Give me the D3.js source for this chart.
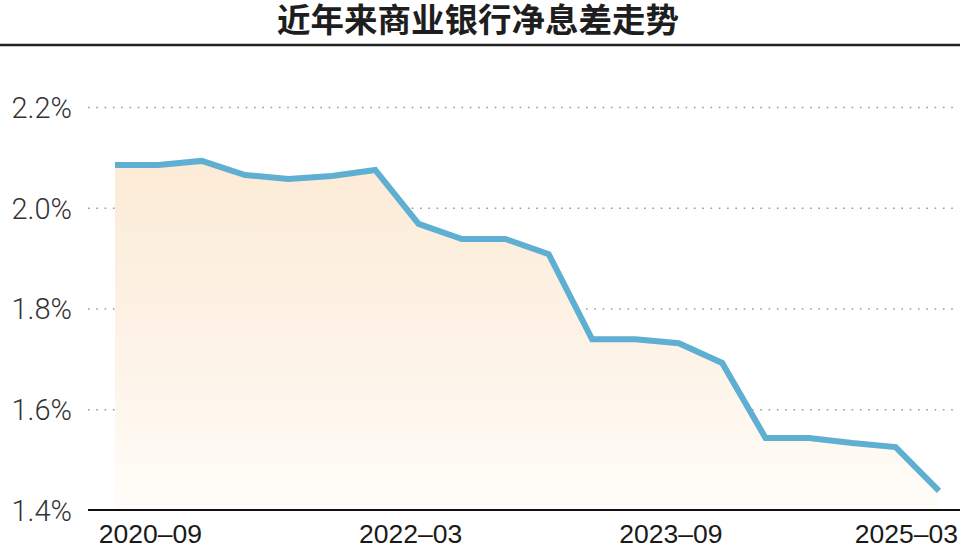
<!DOCTYPE html>
<html><head><meta charset="utf-8">
<script src="https://cdn.jsdelivr.net/npm/d3@7"></script>
<style>
html,body{margin:0;padding:0;background:#fff;}
svg{display:block;}
</style>
</head><body>
<svg id="chart" width="960" height="547"></svg>
<script>
const titleText = "近年来商业银行净息差走势";
const periods = ["2020-06","2020-09","2020-12","2021-03","2021-06","2021-09","2021-12","2022-03","2022-06","2022-09","2022-12","2023-03","2023-06","2023-09","2023-12","2024-03","2024-06","2024-09","2024-12","2025-03"];
const nim = [2.085,2.085,2.093,2.065,2.057,2.063,2.075,1.968,1.938,1.938,1.908,1.739,1.739,1.731,1.692,1.543,1.543,1.533,1.525,1.438];
const xTickLabels = ["2020-09","2022-03","2023-09","2025-03"];
const yTicks = [1.4,1.6,1.8,2.0,2.2];

const W = 960, H = 547;
const svg = d3.select("#chart");

const x = d3.scalePoint().domain(periods).range([115, 939]);
const y = d3.scaleLinear().domain([1.4, 2.2]).range([510, 107]);

// gradients
const defs = svg.append("defs");
const grad = defs.append("linearGradient").attr("id","fillGrad")
  .attr("gradientUnits","userSpaceOnUse").attr("x1",0).attr("y1",y(2.1)).attr("x2",0).attr("y2",y(1.4));
grad.append("stop").attr("offset","0%").attr("stop-color","#fcebd6");
grad.append("stop").attr("offset","55%").attr("stop-color","#fdf3e7");
grad.append("stop").attr("offset","100%").attr("stop-color","#fffdf9");

// title
svg.append("text").attr("x", 478).attr("y", 32)
  .attr("text-anchor","middle")
  .attr("font-family","'Noto Sans CJK SC', sans-serif")
  .attr("font-weight", 700)
  .attr("font-size", 33.5)
  .attr("fill", "#1e1e1e")
  .text(titleText);

svg.append("line").attr("x1",0).attr("x2",W).attr("y1",45).attr("y2",45)
  .attr("stroke","#222").attr("stroke-width",2.5);

// grid lines
const yAxis = d3.axisLeft(y).tickValues(yTicks).tickSize(-(955-88)).tickPadding(16)
  .tickFormat(d => d.toFixed(1) + "%");
const gy = svg.append("g").attr("transform","translate(88,0)").call(yAxis);
gy.select(".domain").remove();
gy.selectAll(".tick line")
  .attr("stroke","#9a9a9a").attr("stroke-width",1.6)
  .attr("stroke-dasharray","1.6,6.7")
  .attr("stroke-linecap","butt")
  .attr("display", d => d === 1.4 ? "none" : null);
gy.selectAll(".tick text")
  .attr("font-family","Roboto, 'Liberation Sans', sans-serif")
  .attr("font-weight",300)
  .attr("font-size",29)
  .attr("fill","#333")
  .attr("x",-16)
  .attr("dy","0.36em");

// area
const area = d3.area().x((d,i)=>x(periods[i])).y0(y(1.4)).y1(d=>y(d));
svg.append("path").datum(nim).attr("d",area).attr("fill","url(#fillGrad)");

// line
const line = d3.line().x((d,i)=>x(periods[i])).y(d=>y(d));
svg.append("path").datum(nim).attr("d",line)
  .attr("fill","none").attr("stroke","#5eafd2").attr("stroke-width",6)
  .attr("stroke-linejoin","miter").attr("stroke-miterlimit",3);

// baseline
svg.append("line").attr("x1",88).attr("x2",W).attr("y1",y(1.4)).attr("y2",y(1.4))
  .attr("stroke","#111").attr("stroke-width",2);

// x labels
const xl = svg.append("g");
xTickLabels.forEach(lbl => {
  const t = xl.append("text")
    .attr("x", x(lbl) - 8).attr("y", 543)
    .attr("text-anchor","middle")
    .attr("font-family","'Liberation Sans', Arial, sans-serif")
    .attr("font-size",26.5)
    .attr("fill","#1a1a1a")
    .text(lbl.replace("-", "–"));
  const bb = t.node().getBBox();
  if (bb.x + bb.width > 958) {
    t.attr("text-anchor","end").attr("x", 958);
  }
});
</script>
</body></html>
